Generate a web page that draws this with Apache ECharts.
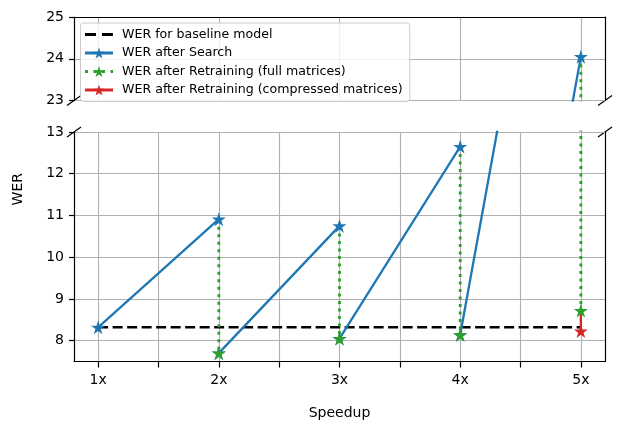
<!DOCTYPE html>
<html>
  <head>
    <meta charset="utf-8">
    <title>WER vs Speedup</title>
    <script src="https://cdn.jsdelivr.net/npm/echarts@6/dist/echarts.min.js"></script>
    <style>
      html, body { margin: 0; padding: 0; background: #fff; }
      #chart { width: 624px; height: 436px; }
    </style>
  </head>
  <body>
    <div id="chart"></div>
    <script>
      // data
      const speedups = [1, 2, 3, 4, 5];
      const baselineWER = 8.32;
      const searchWER = [10.91, 10.75, 12.65, 24.05];        // after search, at 2x..5x
      const retrainFullWER = [7.70, 8.05, 8.14, 8.72];      // after retraining, at 2x..5x
      const retrainCompressedWER = [8.23];                  // at 5x
      const xTickValues = [1, 1.5, 2, 2.5, 3, 3.5, 4, 4.5, 5];
      const xLabelValues = [1, 2, 3, 4, 5];
      const yTicksTop = [23, 24, 25];
      const yTicksBottom = [8, 9, 10, 11, 12, 13];

      // layout (pixels)
      const L = 74, R = 605;
      const topT = 17, topB = 100.5;
      const botT = 132, botB = 361.5;

      const font = 'DejaVu Sans';
      const gridColor = '#b0b0b0';
      const star = 'path://M50 0 L61.23 34.55 L97.55 34.55 L68.17 55.9 L79.39 90.45 L50 69.1 L20.61 90.45 L31.83 55.9 L2.45 34.55 L38.77 34.55 Z';
      const dashed = [10, 4.5];
      const dotted = [3, 4.5];

      // search steps start from the previous retrained model (baseline at 1x)
      const starts = [baselineWER].concat(retrainFullWER.slice(0, 3));
      const searchData = [];
      const greenData = [];
      for (let i = 0; i < searchWER.length; i++) {
        searchData.push([speedups[i], starts[i]], [speedups[i + 1], searchWER[i]], [speedups[i + 1], '-']);
        greenData.push({value: [speedups[i + 1], searchWER[i]], symbol: 'none'},
                       [speedups[i + 1], retrainFullWER[i]], [speedups[i + 1], '-']);
      }
      const redData = [{value: [5, retrainFullWER[3]], symbol: 'none'}, [5, retrainCompressedWER[0]]];
      const baselineData = speedups.map(s => [s, baselineWER]);

      const names = ['WER for baseline model', 'WER after Search',
                     'WER after Retraining (full matrices)', 'WER after Retraining (compressed matrices)'];

      function lines(g) {
        return [
          {name: names[0], type: 'line', xAxisIndex: g, yAxisIndex: g, data: baselineData,
           symbol: 'none', lineStyle: {color: '#000', width: 2.6, type: dashed}, itemStyle: {color: '#000'}},
          {name: names[1], type: 'line', xAxisIndex: g, yAxisIndex: g, data: searchData,
           symbol: star, symbolSize: 14, lineStyle: {color: '#1f77b4', width: 2.3}, itemStyle: {color: '#1f77b4'}},
          {name: names[2], type: 'line', xAxisIndex: g, yAxisIndex: g, data: greenData,
           symbol: star, symbolSize: 14, lineStyle: {color: '#2ca02c', width: 2.8, type: dotted}, itemStyle: {color: '#2ca02c'}},
          {name: names[3], type: 'line', xAxisIndex: g, yAxisIndex: g, data: redData,
           symbol: star, symbolSize: 14, lineStyle: {color: '#d62728', width: 2.3}, itemStyle: {color: '#d62728'}}
        ];
      }

      const spine = {show: true, onZero: false, lineStyle: {color: '#000', width: 1.2}};
      const labelStyle = {color: '#000', fontFamily: font, fontSize: 14};

      // diagonal break marks on the four cut corners
      const breakMarks = [[L, topB], [R, topB], [L, botT], [R, botT]].map(p => ({
        type: 'line',
        shape: {x1: p[0] - 7, y1: p[1] + 5, x2: p[0] + 7, y2: p[1] - 5},
        style: {stroke: '#000', lineWidth: 1.2}
      }));

      const legendItems = [
        {name: names[0], itemStyle: {color: 'rgba(0,0,0,0)', borderWidth: 0}, lineStyle: {width: 3, type: [11, 6]}},
        {name: names[1], lineStyle: {width: 3}},
        {name: names[2], lineStyle: {width: 3, type: [3, 5.5]}},
        {name: names[3], lineStyle: {width: 3}}
      ];

      const chart = echarts.init(document.getElementById('chart'), null, {renderer: 'canvas'});
      chart.setOption({
        animation: false,
        grid: [
          {left: L, top: topT, width: R - L, height: topB - topT},
          {left: L, top: botT, width: R - L, height: botB - botT}
        ],
        xAxis: [
          {type: 'value', gridIndex: 0, min: 0.8, max: 5.2, position: 'top',
           axisLine: spine, axisTick: {show: false, customValues: xLabelValues},
           axisLabel: {show: false}, splitLine: {show: true, lineStyle: {color: gridColor, width: 1.1}}},
          {type: 'value', gridIndex: 1, min: 0.8, max: 5.2, position: 'bottom',
           axisLine: spine,
           axisTick: {show: true, inside: false, length: 6, customValues: xTickValues, lineStyle: {color: '#000', width: 1.2}},
           axisLabel: Object.assign({customValues: xLabelValues, margin: 12, formatter: v => v + 'x'}, labelStyle),
           splitLine: {show: true, lineStyle: {color: gridColor, width: 1.1}},
           name: 'Speedup', nameLocation: 'middle', nameGap: 45, nameTextStyle: labelStyle}
        ],
        yAxis: [
          {type: 'value', gridIndex: 0, min: 23, max: 25,
           axisLine: spine,
           axisTick: {show: true, length: 5, customValues: yTicksTop, lineStyle: {color: '#000', width: 1.2}},
           axisLabel: Object.assign({customValues: yTicksTop, margin: 10}, labelStyle),
           splitLine: {show: true, lineStyle: {color: gridColor, width: 1.1}}},
          {type: 'value', gridIndex: 1, min: 7.5, max: 13,
           axisLine: spine,
           axisTick: {show: true, length: 5, customValues: yTicksBottom, lineStyle: {color: '#000', width: 1.2}},
           axisLabel: Object.assign({customValues: yTicksBottom, margin: 10}, labelStyle),
           splitLine: {show: true, lineStyle: {color: gridColor, width: 1.1}}},
          // right spines
          {type: 'value', gridIndex: 0, position: 'right', min: 0, max: 1, axisLine: spine,
           axisTick: {show: false}, axisLabel: {show: false}, splitLine: {show: false}},
          {type: 'value', gridIndex: 1, position: 'right', min: 0, max: 1, axisLine: spine,
           axisTick: {show: false}, axisLabel: {show: false}, splitLine: {show: false}}
        ],
        legend: {
          data: legendItems, orient: 'vertical', left: 80.5, top: 23,
          itemWidth: 28, itemHeight: 14, itemGap: 5.5,
          padding: [5, 7, 5, 3],
          backgroundColor: 'rgba(255,255,255,0.8)', borderColor: '#cccccc', borderWidth: 1, borderRadius: 3,
          textStyle: {color: '#000', fontFamily: font, fontSize: 12.6, padding: [0, 0, 0, 4]},
          selectedMode: false, z: 10
        },
        graphic: breakMarks.concat([
          {type: 'text', x: 18, y: (topT + botB) / 2, rotation: Math.PI / 2,
           style: {text: 'WER', fill: '#000', font: '14px "DejaVu Sans"', align: 'center', verticalAlign: 'middle'}}
        ]),
        series: lines(0).concat(lines(1))
      });
    </script>
  </body>
</html>
